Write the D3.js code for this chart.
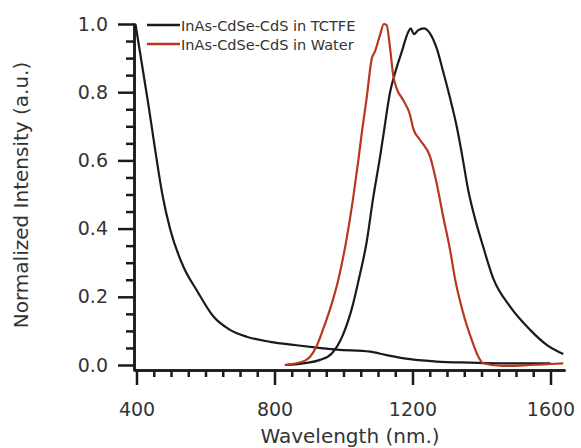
<!DOCTYPE html>
<html>
<head>
<meta charset="utf-8">
<script src="https://cdn.jsdelivr.net/npm/d3@7"></script>
<style>
	body { margin: 0; background: #fff; }
	text { font-family: 'DejaVu Sans', sans-serif; fill: #333; }
</style>
</head>
<body>
<div id="chart"><svg width="581" height="448"></svg></div>
<script>
// absorbance in TCTFE
var absNm = [397, 434, 455, 475, 497, 536, 574, 623, 671, 719, 787, 864, 941, 980, 1077, 1125, 1193, 1270, 1367, 1462, 1600];
var absVal = [1.0, 0.767, 0.625, 0.5, 0.4, 0.288, 0.22, 0.142, 0.103, 0.083, 0.068, 0.058, 0.049, 0.045, 0.039, 0.029, 0.017, 0.010, 0.007, 0.005, 0.005];

// PL in TCTFE
var tctfeNm = [830, 883, 932, 966, 999, 1028, 1043, 1067, 1086, 1106, 1115, 1135, 1149, 1169, 1188, 1195, 1204, 1217, 1233, 1251, 1270, 1289, 1309, 1328, 1343, 1362, 1381, 1401, 1434, 1483, 1541, 1589, 1637];
var tctfeVal = [0.0, 0.005, 0.015, 0.034, 0.09, 0.18, 0.245, 0.36, 0.49, 0.611, 0.67, 0.80, 0.855, 0.919, 0.977, 0.987, 0.97, 0.982, 0.987, 0.972, 0.929, 0.860, 0.782, 0.70, 0.62, 0.51, 0.43, 0.36, 0.254, 0.171, 0.103, 0.059, 0.032];

// PL in water
var waterNm = [830, 883, 903, 922, 941, 966, 985, 1009, 1028, 1043, 1053, 1067, 1082, 1091, 1106, 1117, 1125, 1135, 1144, 1154, 1173, 1193, 1202, 1222, 1251, 1270, 1289, 1309, 1323, 1347, 1372, 1391, 1405, 1462, 1541, 1599, 1637];
var waterVal = [0.0, 0.010, 0.024, 0.055, 0.105, 0.18, 0.25, 0.37, 0.49, 0.6, 0.68, 0.782, 0.899, 0.919, 0.968, 1.0, 0.997, 0.929, 0.850, 0.811, 0.777, 0.733, 0.694, 0.66, 0.611, 0.533, 0.435, 0.337, 0.254, 0.152, 0.073, 0.024, 0.005, -0.003, 0.0, 0.003, 0.005];

var seriesNames = ['InAs-CdSe-CdS in TCTFE', 'InAs-CdSe-CdS in Water'];
var seriesColors = ['#1a1a1a', '#b8371f'];

var xMajor = [400, 800, 1200, 1600];
var yMajor = [0, 0.2, 0.4, 0.6, 0.8, 1.0];
var xMinor = [450, 500, 550, 600, 650, 700, 750, 850, 900, 950, 1000, 1050, 1100, 1150, 1250, 1300, 1350, 1400, 1450, 1500, 1550];
var yMinor = [0.05, 0.1, 0.15, 0.25, 0.3, 0.35, 0.45, 0.5, 0.55, 0.65, 0.7, 0.75, 0.85, 0.9, 0.95];

var svg = d3.select('#chart > svg');

var xScale = d3.scaleLinear()
	.domain([400, 1600])
	.range([136.5, 550.5]);
var yScale = d3.scaleLinear()
	.domain([0, 1])
	.range([365, 24]);

// axis scales run a little past the data range, like the original
var xAxisScale = xScale.copy().domain([392.5, 1642]).range([xScale(392.5), xScale(1642)]);
var yAxisScale = yScale.copy().domain([-0.017, 1.003]).range([yScale(-0.017), yScale(1.003)]);

var noLabel = function() { return '' };

// x axis
var xAxisY = 370;
svg.append('g')
	.attr('class', 'x minor')
	.attr('transform', 'translate(0,' + xAxisY + ')')
	.call(d3.axisBottom(xAxisScale).tickValues(xMinor).tickSizeInner(7).tickSizeOuter(0).tickFormat(noLabel));
svg.append('g')
	.attr('class', 'x major')
	.attr('transform', 'translate(0,' + xAxisY + ')')
	.call(d3.axisBottom(xAxisScale).tickValues(xMajor).tickSizeInner(15).tickSizeOuter(0).tickPadding(18).tickFormat(d3.format('d')));

// y axis
var yAxisX = 134;
svg.append('g')
	.attr('class', 'y minor')
	.attr('transform', 'translate(' + yAxisX + ',0)')
	.call(d3.axisLeft(yAxisScale).tickValues(yMinor).tickSizeInner(8).tickSizeOuter(0).tickFormat(noLabel));
svg.append('g')
	.attr('class', 'y major')
	.attr('transform', 'translate(' + yAxisX + ',0)')
	.call(d3.axisLeft(yAxisScale).tickValues(yMajor).tickSizeInner(16).tickSizeOuter(0).tickPadding(10).tickFormat(d3.format('.1f')));

svg.selectAll('.domain, .tick line')
	.attr('stroke', '#1a1a1a')
	.attr('stroke-width', 2.5);
svg.selectAll('.tick text')
	.style('font-family', "'DejaVu Sans', sans-serif")
	.style('font-size', '19px')
	.attr('fill', '#333');

// axis titles
svg.append('text')
	.attr('x', 350)
	.attr('y', 443)
	.attr('text-anchor', 'middle')
	.style('font-size', '20px')
	.text('Wavelength (nm.)');
svg.append('text')
	.attr('transform', 'translate(28,195) rotate(-90)')
	.attr('text-anchor', 'middle')
	.style('font-size', '20px')
	.text('Normalized Intensity (a.u.)');

// curves
var line = d3.line()
	.x(function(d) { return xScale(d[0]) })
	.y(function(d) { return yScale(d[1]) })
	.curve(d3.curveMonotoneX);

function pairs(xs, ys) {
	return xs.map(function(x, i) { return [x, ys[i]] });
}

var curves = [
	{ data: pairs(absNm, absVal), color: seriesColors[0] },
	{ data: pairs(tctfeNm, tctfeVal), color: seriesColors[0] },
	{ data: pairs(waterNm, waterVal), color: seriesColors[1] }
];

svg.append('g').attr('class', 'plot')
	.selectAll('path')
	.data(curves)
	.enter()
	.append('path')
	.attr('d', function(d) { return line(d.data) })
	.attr('fill', 'none')
	.attr('stroke', function(d) { return d.color })
	.attr('stroke-width', 2.2)
	.attr('stroke-linejoin', 'round');

// legend
var legend = svg.append('g').attr('class', 'legend')
	.selectAll('g')
	.data(seriesNames)
	.enter()
	.append('g')
	.attr('transform', function(d, i) { return 'translate(147,' + (25 + i * 19) + ')' });
legend.append('line')
	.attr('x1', 0)
	.attr('x2', 33)
	.attr('stroke', function(d, i) { return seriesColors[i] })
	.attr('stroke-width', 2.5);
legend.append('text')
	.attr('x', 34)
	.attr('y', 6)
	.style('font-size', '14.5px')
	.text(function(d) { return d });
</script>
</body>
</html>
